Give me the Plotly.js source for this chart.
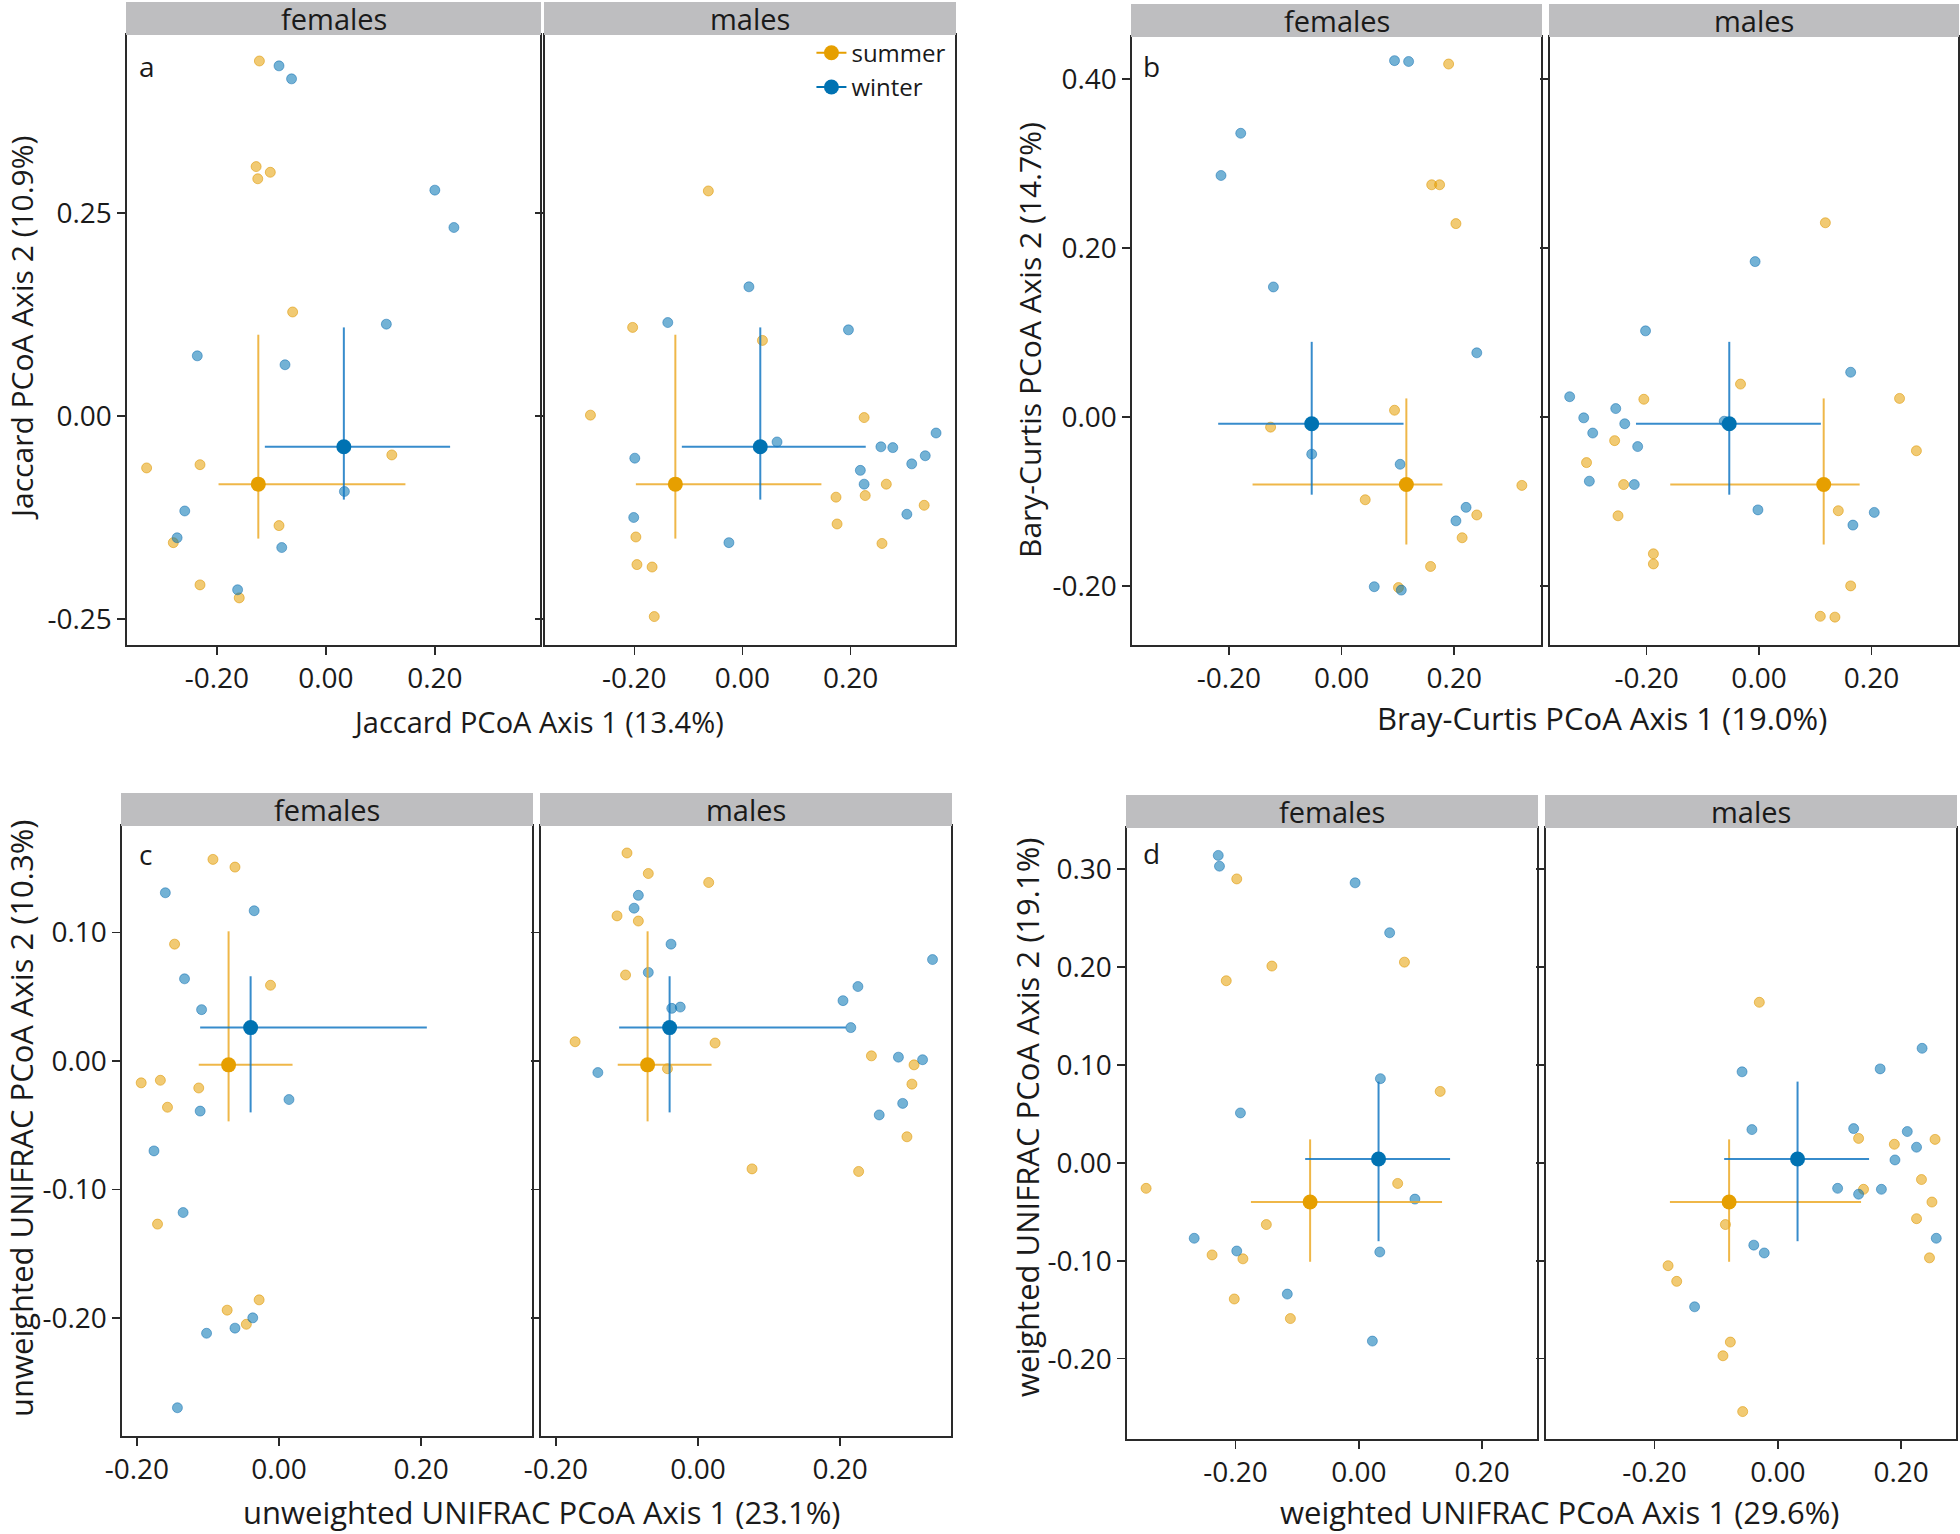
<!DOCTYPE html>
<html><head><meta charset="utf-8">
<script src="https://cdn.plot.ly/plotly-3.0.1.min.js"></script>
<style>body{margin:0;background:#fff}#chart{width:1960px;height:1534px}</style>
</head><body><div id="chart"></div>
<script>
// ---------- DATA ----------
var seasons = ['summer', 'winter'];
var facets = ['females', 'males'];
var panelLetters = ['a', 'b', 'c', 'd'];

// Panel a: Jaccard
var aFemSummerX = [-0.122,-0.128,-0.102,-0.125,-0.061,0.121,-0.329,-0.231,-0.086,-0.280,-0.231,-0.159];
var aFemSummerY = [0.437,0.307,0.300,0.292,0.128,-0.048,-0.064,-0.060,-0.135,-0.156,-0.208,-0.224];
var aFemWinterX = [-0.086,-0.063,0.200,0.235,0.111,-0.236,-0.075,0.034,-0.259,-0.273,-0.081,-0.162];
var aFemWinterY = [0.431,0.415,0.278,0.232,0.113,0.074,0.063,-0.093,-0.117,-0.150,-0.162,-0.214];
var aMalSummerX = [-0.063,-0.203,0.037,-0.281,0.225,0.173,0.266,0.227,0.336,0.175,-0.197,0.258,-0.195,-0.167,-0.163];
var aMalSummerY = [0.277,0.109,0.093,0.001,-0.002,-0.100,-0.084,-0.098,-0.110,-0.133,-0.149,-0.157,-0.183,-0.186,-0.247];
var aMalWinterX = [0.012,-0.138,0.196,0.064,0.358,0.256,0.278,0.338,0.313,-0.199,0.218,0.225,0.304,-0.201,-0.025];
var aMalWinterY = [0.159,0.115,0.106,-0.032,-0.021,-0.038,-0.039,-0.049,-0.059,-0.052,-0.067,-0.084,-0.121,-0.125,-0.156];
var aCentX = [-0.124, 0.033];
var aCentY = [-0.084, -0.038];
var aCentXLo = [-0.197, -0.112];
var aCentXHi = [0.146, 0.228];
var aCentYLo = [-0.151, -0.103];
var aCentYHi = [0.100, 0.109];

// Panel b: Bray-Curtis
var bFemSummerX = [0.190,0.160,0.174,0.203,0.094,-0.126,0.320,0.042,0.240,0.214,0.158,0.101];
var bFemSummerY = [0.418,0.275,0.275,0.229,0.008,-0.012,-0.081,-0.098,-0.116,-0.143,-0.177,-0.202];
var bFemWinterX = [0.094,0.119,-0.179,-0.214,-0.121,0.240,-0.053,0.104,0.221,0.203,0.058,0.106];
var bFemWinterY = [0.422,0.421,0.336,0.286,0.154,0.076,-0.044,-0.056,-0.107,-0.123,-0.201,-0.205];
var bMalSummerX = [0.118,-0.033,-0.205,0.250,-0.257,0.280,-0.307,-0.241,-0.251,0.141,-0.188,-0.188,0.163,0.109,0.135];
var bMalSummerY = [0.230,0.039,0.021,0.022,-0.028,-0.040,-0.054,-0.080,-0.117,-0.111,-0.162,-0.174,-0.200,-0.236,-0.237];
var bMalWinterX = [-0.007,-0.202,0.163,-0.337,-0.255,-0.312,-0.239,-0.296,-0.216,-0.302,-0.222,-0.002,0.205,0.167,-0.062];
var bMalWinterY = [0.184,0.102,0.053,0.024,0.010,-0.001,-0.008,-0.019,-0.035,-0.076,-0.080,-0.110,-0.113,-0.128,-0.005];
var bCentX = [0.115, -0.053];
var bCentY = [-0.080, -0.008];
var bCentXLo = [-0.158, -0.219];
var bCentXHi = [0.179, 0.110];
var bCentYLo = [-0.151, -0.092];
var bCentYHi = [0.022, 0.089];

// Panel c: unweighted UNIFRAC
var cFemSummerX = [-0.093,-0.062,-0.147,-0.012,-0.194,-0.167,-0.113,-0.157,-0.171,-0.028,-0.073,-0.046];
var cFemSummerY = [0.157,0.151,0.091,0.059,-0.017,-0.015,-0.021,-0.036,-0.127,-0.186,-0.194,-0.205];
var cFemWinterX = [-0.160,-0.035,-0.133,-0.109,0.014,-0.111,-0.176,-0.135,-0.037,-0.062,-0.102,-0.143];
var cFemWinterY = [0.131,0.117,0.064,0.040,-0.030,-0.039,-0.070,-0.118,-0.200,-0.208,-0.212,-0.270];
var cMalSummerX = [-0.100,-0.070,0.015,-0.114,-0.084,-0.102,-0.173,0.024,-0.043,0.244,0.304,0.301,0.294,0.076,0.226];
var cMalSummerY = [0.162,0.146,0.139,0.113,0.109,0.067,0.015,0.014,-0.006,0.004,-0.003,-0.018,-0.059,-0.084,-0.086];
var cMalWinterX = [-0.084,-0.090,-0.038,-0.070,-0.037,-0.025,0.330,0.225,0.204,0.215,-0.141,0.282,0.316,0.288,0.255];
var cMalWinterY = [0.129,0.119,0.091,0.069,0.041,0.042,0.079,0.058,0.047,0.026,-0.009,0.003,0.001,-0.033,-0.042];
var cCentX = [-0.071, -0.040];
var cCentY = [-0.003, 0.026];
var cCentXLo = [-0.113, -0.111];
var cCentXHi = [0.019, 0.208];
var cCentYLo = [-0.047, -0.040];
var cCentYHi = [0.101, 0.066];

// Panel d: weighted UNIFRAC
var dFemSummerX = [-0.198,-0.141,-0.215,0.074,0.132,-0.345,0.063,-0.150,-0.238,-0.188,-0.202,-0.111];
var dFemSummerY = [0.290,0.201,0.186,0.205,0.073,-0.026,-0.021,-0.063,-0.094,-0.098,-0.139,-0.159];
var dFemWinterX = [-0.228,-0.226,-0.006,0.050,0.035,-0.192,0.091,-0.267,-0.198,0.034,-0.116,0.022];
var dFemWinterY = [0.314,0.303,0.286,0.235,0.086,0.051,-0.037,-0.077,-0.090,-0.091,-0.134,-0.182];
var dMalSummerX = [-0.030,0.131,0.189,0.255,0.233,0.139,0.250,0.225,-0.085,0.246,-0.178,-0.164,-0.077,-0.089,-0.057];
var dMalSummerY = [0.164,0.025,0.019,0.024,-0.017,-0.027,-0.040,-0.057,-0.063,-0.097,-0.105,-0.121,-0.183,-0.197,-0.254];
var dMalWinterX = [0.234,-0.058,0.166,-0.042,0.123,0.210,0.225,0.190,0.097,0.131,0.168,0.257,-0.039,-0.022,-0.135];
var dMalWinterY = [0.117,0.093,0.096,0.034,0.035,0.032,0.016,0.003,-0.026,-0.032,-0.027,-0.077,-0.084,-0.092,-0.147];
var dCentX = [-0.079, 0.032];
var dCentY = [-0.040, 0.004];
var dCentXLo = [-0.175, -0.087];
var dCentXHi = [0.135, 0.148];
var dCentYLo = [-0.101, -0.080];
var dCentYHi = [0.024, 0.083];

// Axis titles
var xTitles = ['Jaccard PCoA Axis 1 (13.4%)', 'Bray-Curtis PCoA Axis 1 (19.0%)',
               'unweighted UNIFRAC PCoA Axis 1 (23.1%)', 'weighted UNIFRAC PCoA Axis 1 (29.6%)'];
var yTitles = ['Jaccard PCoA Axis 2 (10.9%)', 'Bary-Curtis PCoA Axis 2 (14.7%)',
               'unweighted UNIFRAC PCoA Axis 2 (10.3%)', 'weighted UNIFRAC PCoA Axis 2 (19.1%)'];

// Tick values / labels
var xTickVals = [-0.2, 0, 0.2];
var xTickText = ['-0.20', '0.00', '0.20'];
var aYTickVals = [-0.25, 0, 0.25];
var aYTickText = ['-0.25', '0.00', '0.25'];
var bYTickVals = [-0.2, 0, 0.2, 0.4];
var bYTickText = ['-0.20', '0.00', '0.20', '0.40'];
var cYTickVals = [-0.2, -0.1, 0, 0.1];
var cYTickText = ['-0.20', '-0.10', '0.00', '0.10'];
var dYTickVals = [-0.2, -0.1, 0, 0.1, 0.2, 0.3];
var dYTickText = ['-0.20', '-0.10', '0.00', '0.10', '0.20', '0.30'];

// ---------- BUILD ----------
var W = 1960, H = 1534;
var FONT = '"Open Sans", "Noto Sans", sans-serif';
var ptFill = ['rgba(230,159,0,0.55)', 'rgba(0,114,178,0.55)'];
var ptLine = ['rgba(220,150,0,0.55)', 'rgba(0,100,170,0.45)'];
var centCol = ['#E69F00', '#0072B2'];
var barCol = ['rgba(236,170,40,0.85)', 'rgba(20,120,195,0.85)'];

var panels = [
  {fem: [[aFemSummerX, aFemSummerY], [aFemWinterX, aFemWinterY]],
   mal: [[aMalSummerX, aMalSummerY], [aMalWinterX, aMalWinterY]],
   cx: aCentX, cy: aCentY, xlo: aCentXLo, xhi: aCentXHi, ylo: aCentYLo, yhi: aCentYHi,
   xr: [-0.365, 0.393], yr: [-0.282, 0.469], yt: aYTickVals, ytt: aYTickText,
   box: [[127, 540], [545, 955]], top: 35, bot: 645, strip: 33,
   letter: [147, 66], xt: [538, 721], xts: 29, ytl: [21, 328], yts: 30},
  {fem: [[bFemSummerX, bFemSummerY], [bFemWinterX, bFemWinterY]],
   mal: [[bMalSummerX, bMalSummerY], [bMalWinterX, bMalWinterY]],
   cx: bCentX, cy: bCentY, xlo: bCentXLo, xhi: bCentXHi, ylo: bCentYLo, yhi: bCentYHi,
   xr: [-0.372, 0.354], yr: [-0.270, 0.450], yt: bYTickVals, ytt: bYTickText,
   box: [[1132, 1541], [1550, 1958]], top: 37, bot: 645, strip: 33,
   letter: [1151, 66], xt: [1602, 718], xts: 31, ytl: [1030, 340], yts: 30},
  {fem: [[cFemSummerX, cFemSummerY], [cFemWinterX, cFemWinterY]],
   mal: [[cMalSummerX, cMalSummerY], [cMalWinterX, cMalWinterY]],
   cx: cCentX, cy: cCentY, xlo: cCentXLo, xhi: cCentXHi, ylo: cCentYLo, yhi: cCentYHi,
   xr: [-0.221, 0.356], yr: [-0.292, 0.183], yt: cYTickVals, ytt: cYTickText,
   box: [[122, 532], [541, 951]], top: 826, bot: 1436, strip: 33,
   letter: [145, 854], xt: [541, 1512], xts: 31, ytl: [21, 1119], yts: 31},
  {fem: [[dFemSummerX, dFemSummerY], [dFemWinterX, dFemWinterY]],
   mal: [[dMalSummerX, dMalSummerY], [dMalWinterX, dMalWinterY]],
   cx: dCentX, cy: dCentY, xlo: dCentXLo, xhi: dCentXHi, ylo: dCentYLo, yhi: dCentYHi,
   xr: [-0.376, 0.289], yr: [-0.282, 0.342], yt: dYTickVals, ytt: dYTickText,
   box: [[1127, 1537], [1546, 1956]], top: 828, bot: 1439, strip: 33,
   letter: [1151, 853], xt: [1559, 1512], xts: 31, ytl: [1027, 1118], yts: 31}
];

var traces = [];
var layout = {
  width: W, height: H, margin: {l: 0, r: 0, t: 0, b: 0},
  paper_bgcolor: '#fff', plot_bgcolor: '#fff',
  font: {family: FONT, color: '#1a1a1a'},
  showlegend: true,
  legend: {x: 0.414, y: 0.980, xanchor: 'left', yanchor: 'top', bgcolor: 'rgba(0,0,0,0)',
           font: {size: 24, family: FONT, color: '#1a1a1a'}, itemwidth: 30, tracegroupgap: 0},
  shapes: [], annotations: []
};

var k = 0;
panels.forEach(function (p, pi) {
  [p.fem, p.mal].forEach(function (facetData, fi) {
    k += 1;
    var xa = 'x' + (k === 1 ? '' : k), ya = 'y' + (k === 1 ? '' : k);
    var xk = 'xaxis' + (k === 1 ? '' : k), yk = 'yaxis' + (k === 1 ? '' : k);
    var L = p.box[fi][0], R = p.box[fi][1];
    var axBase = {showline: true, linecolor: '#2a2a2a', linewidth: 1.6, mirror: true,
                  ticks: 'outside', ticklen: 8, tickwidth: 1.5, tickcolor: '#2a2a2a',
                  showgrid: false, zeroline: false, fixedrange: true,
                  tickfont: {size: 28, family: FONT, color: '#1a1a1a'}};
    layout[xk] = Object.assign({}, axBase, {
      domain: [L / W, R / W], range: p.xr, anchor: ya,
      tickmode: 'array', tickvals: xTickVals, ticktext: xTickText});
    layout[yk] = Object.assign({}, axBase, {
      domain: [1 - p.bot / H, 1 - p.top / H], range: p.yr, anchor: xa,
      tickmode: 'array', tickvals: p.yt, ticktext: p.ytt, showticklabels: fi === 0});

    // raw points
    facetData.forEach(function (xy, si) {
      traces.push({type: 'scatter', mode: 'markers', x: xy[0], y: xy[1], xaxis: xa, yaxis: ya,
        showlegend: false, hoverinfo: 'skip',
        marker: {size: 10, color: ptFill[si], line: {color: ptLine[si], width: 1}}});
    });
    // centroids with spread bars
    seasons.forEach(function (s, si) {
      traces.push({type: 'scatter', mode: 'lines+markers', name: s,
        x: [p.cx[si]], y: [p.cy[si]], xaxis: xa, yaxis: ya,
        showlegend: (k === 1), legendgroup: s, hoverinfo: 'skip',
        line: {color: centCol[si], width: 2},
        marker: {size: 15, color: centCol[si]},
        error_x: {type: 'data', symmetric: false, array: [p.xhi[si] - p.cx[si]],
                  arrayminus: [p.cx[si] - p.xlo[si]], color: barCol[si], thickness: 2, width: 0},
        error_y: {type: 'data', symmetric: false, array: [p.yhi[si] - p.cy[si]],
                  arrayminus: [p.cy[si] - p.ylo[si]], color: barCol[si], thickness: 2, width: 0}});
    });

    // facet strip
    layout.shapes.push({type: 'rect', xref: 'paper', yref: 'paper', layer: 'above',
      x0: (L - 1) / W, x1: (R + 1) / W, y0: 1 - p.top / H, y1: 1 - (p.top - p.strip) / H,
      fillcolor: '#bebec0', line: {width: 0}});
    layout.annotations.push({xref: 'paper', yref: 'paper', showarrow: false,
      x: (L + R) / 2 / W, y: 1 - (p.top - p.strip / 2) / H, xanchor: 'center', yanchor: 'middle',
      text: facets[fi], font: {size: 29, family: FONT, color: '#1a1a1a'}});
  });
  // panel letter
  layout.annotations.push({xref: 'paper', yref: 'paper', showarrow: false,
    x: p.letter[0] / W, y: 1 - p.letter[1] / H, xanchor: 'center', yanchor: 'middle',
    text: panelLetters[pi], font: {size: 28, family: FONT, color: '#1a1a1a'}});
  // axis titles
  layout.annotations.push({xref: 'paper', yref: 'paper', showarrow: false,
    x: p.xt[0] / W, y: 1 - p.xt[1] / H, xanchor: 'center', yanchor: 'middle',
    text: xTitles[pi], font: {size: p.xts, family: FONT, color: '#1a1a1a'}});
  layout.annotations.push({xref: 'paper', yref: 'paper', showarrow: false, textangle: -90,
    x: p.ytl[0] / W, y: 1 - p.ytl[1] / H, xanchor: 'center', yanchor: 'middle',
    text: yTitles[pi], font: {size: p.yts, family: FONT, color: '#1a1a1a'}});
});

Plotly.newPlot('chart', traces, layout, {staticPlot: true, displayModeBar: false});
</script></body></html>
